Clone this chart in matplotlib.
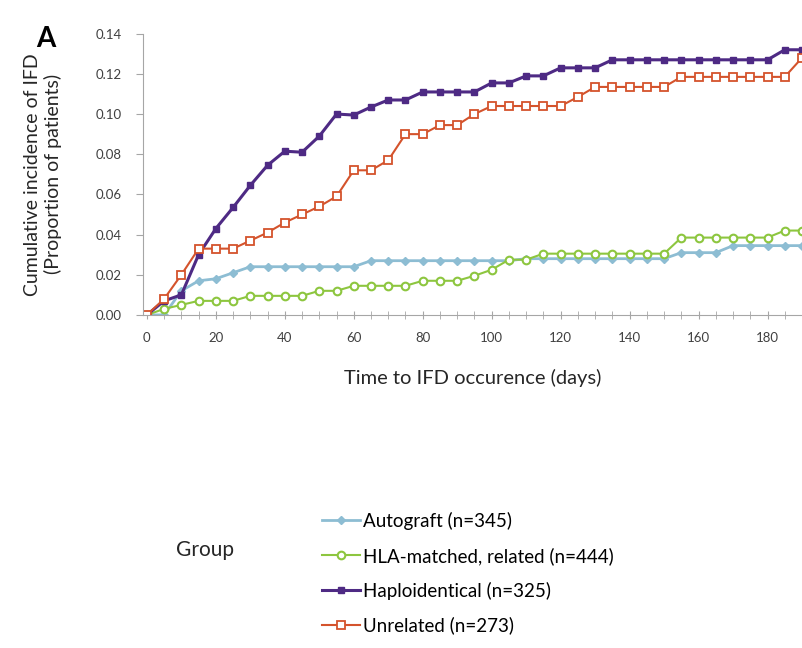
#cumulative incidence of IFD by transplant group
import matplotlib.pyplot as plt
from matplotlib.lines import Line2D

plt.rcParams['font.family'] = ['Lato', 'DejaVu Sans']

days = [0, 5, 10, 15, 20, 25, 30, 35, 40, 45, 50, 55, 60, 65, 70, 75, 80, 85, 90, 95,
        100, 105, 110, 115, 120, 125, 130, 135, 140, 145, 150, 155, 160, 165, 170, 175,
        180, 185, 190]

autograft = [0, 0, 0.012, 0.017, 0.018, 0.021, 0.024, 0.024, 0.024, 0.024, 0.024, 0.024,
             0.024, 0.027, 0.027, 0.027, 0.027, 0.027, 0.027, 0.027, 0.027, 0.027, 0.028,
             0.028, 0.028, 0.028, 0.028, 0.028, 0.028, 0.028, 0.028, 0.031, 0.031, 0.031,
             0.0345, 0.0345, 0.0345, 0.0345, 0.0345]
hla_matched = [0, 0.003, 0.005, 0.007, 0.007, 0.007, 0.0095, 0.0095, 0.0095, 0.0095, 0.012,
               0.012, 0.0145, 0.0145, 0.0145, 0.0145, 0.017, 0.017, 0.017, 0.0195, 0.0225,
               0.0275, 0.0275, 0.0305, 0.0305, 0.0305, 0.0305, 0.0305, 0.0305, 0.0305,
               0.0305, 0.0385, 0.0385, 0.0385, 0.0385, 0.0385, 0.0385, 0.042, 0.042]
haplo = [0, 0.007, 0.010, 0.030, 0.043, 0.0535, 0.0645, 0.0745, 0.0815, 0.081, 0.089, 0.100,
         0.0995, 0.1035, 0.107, 0.107, 0.111, 0.111, 0.111, 0.111, 0.1155, 0.1155, 0.119,
         0.119, 0.123, 0.123, 0.123, 0.127, 0.127, 0.127, 0.127, 0.127, 0.127, 0.127, 0.127,
         0.127, 0.127, 0.132, 0.132]
unrelated = [0, 0.008, 0.020, 0.033, 0.033, 0.033, 0.037, 0.041, 0.046, 0.050, 0.054, 0.059,
             0.072, 0.072, 0.077, 0.090, 0.090, 0.0945, 0.0945, 0.100, 0.104, 0.104, 0.104,
             0.104, 0.104, 0.1085, 0.1135, 0.1135, 0.1135, 0.1135, 0.1135, 0.1185, 0.1185,
             0.1185, 0.1185, 0.1185, 0.1185, 0.1185, 0.128]

labels = ['Autograft (n=345)', 'HLA-matched, related (n=444)',
          'Haploidentical (n=325)', 'Unrelated (n=273)']
yticks = [0.00, 0.02, 0.04, 0.06, 0.08, 0.10, 0.12, 0.14]
xlabels = [0, 20, 40, 60, 80, 100, 120, 140, 160, 180]

c_auto = '#8dbdd3'
c_hla = '#8dc63f'
c_haplo = '#4e2a84'
c_unrel = '#d4532c'

# line styles shared by plot and legend
st_auto = dict(color=c_auto, lw=2, marker='D', ms=4.5, mfc=c_auto, mec=c_auto)
st_hla = dict(color=c_hla, lw=1.5, marker='o', ms=5.5, mfc='white', mec=c_hla, mew=1.5)
st_haplo = dict(color=c_haplo, lw=2.2, marker='s', ms=5, mfc=c_haplo, mec=c_haplo)
st_unrel = dict(color=c_unrel, lw=1.5, marker='s', ms=5.5, mfc='white', mec=c_unrel, mew=1.3)

fig = plt.figure(figsize=(8.02, 6.48), dpi=100)
ax = fig.add_axes([0.178, 0.514, 0.822, 0.434])

ax.plot(days, autograft, **st_auto)
ax.plot(days, hla_matched, **st_hla)
ax.plot(days, haplo, **st_haplo)
ax.plot(days, unrelated, **st_unrel)

ax.set_xlim(-1.2, 189.5)
ax.set_ylim(0, 0.14)
ax.set_yticks(yticks)
ax.set_yticklabels(['%.2f' % v for v in yticks], fontsize=9.5, color='#404040')
ax.set_xticks(days, minor=True)
ax.set_xticks(xlabels)
ax.set_xticklabels([str(v) for v in xlabels], fontsize=9.5, color='#404040')
ax.tick_params(axis='x', which='both', direction='inout', length=6, color='#a6a6a6', pad=9)
ax.tick_params(axis='y', direction='out', length=5, color='#a6a6a6', pad=10)

for s in ['top', 'right']:
    ax.spines[s].set_visible(False)
ax.spines['left'].set_color('#a6a6a6')
ax.spines['bottom'].set_color('#a6a6a6')

ax.set_xlabel('Time to IFD occurence (days)', fontsize=14.5, color='#262626', labelpad=18)
ax.set_ylabel('Cumulative incidence of IFD\n(Proportion of patients)', fontsize=14,
              color='#262626', labelpad=24)

fig.text(0.045, 0.94, 'A', fontsize=20, fontweight='bold', va='center')

# legend below the plot
handles = [Line2D([], [], **st_auto), Line2D([], [], **st_hla),
           Line2D([], [], **st_haplo), Line2D([], [], **st_unrel)]
fig.legend(handles, labels, loc='upper left', bbox_to_anchor=(0.402, 0.21),
           frameon=False, fontsize=13.5, handlelength=2.0, handletextpad=0.15,
           labelspacing=0.9, borderaxespad=0, borderpad=0)
fig.text(0.255, 0.152, 'Group', fontsize=15, color='#262626', ha='center', va='center')

plt.savefig('out.png', dpi=100)
